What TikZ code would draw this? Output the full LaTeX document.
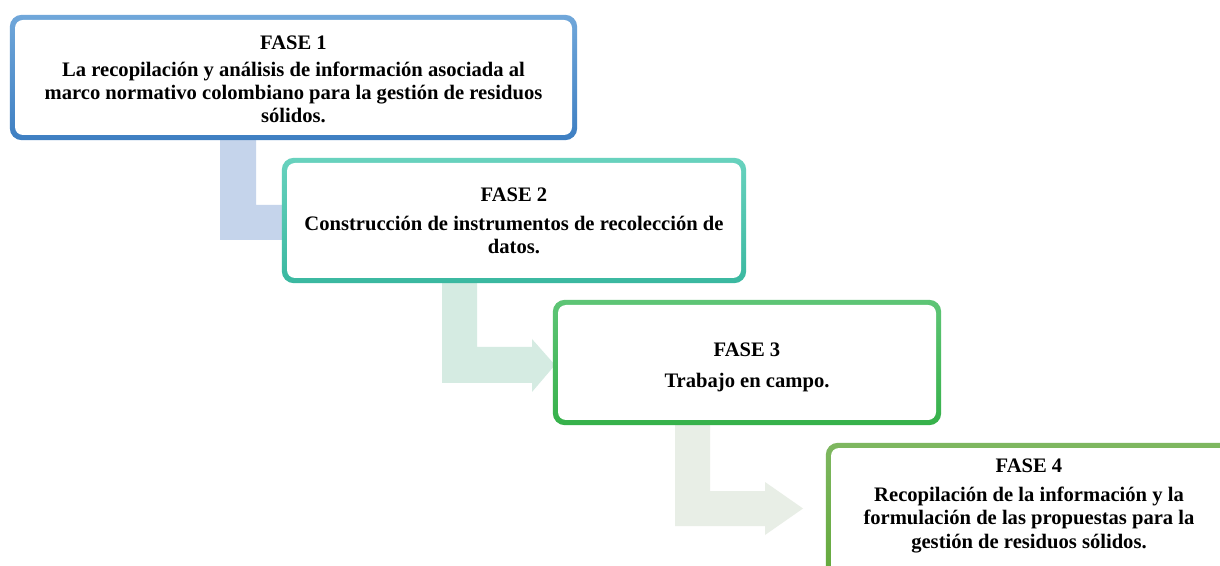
\documentclass[tikz,border=0pt]{standalone}
\usepackage{fontspec}
\setmainfont{Liberation Serif}
\usetikzlibrary{calc}
\pgfdeclarelayer{background}
\pgfsetlayers{background,main}
\definecolor{bAt}{RGB}{112,167,218}
\definecolor{bAb}{RGB}{62,127,194}
\definecolor{bBt}{RGB}{104,210,190}
\definecolor{bBb}{RGB}{58,184,160}
\definecolor{bCt}{RGB}{94,197,118}
\definecolor{bCb}{RGB}{54,177,74}
\definecolor{bDt}{RGB}{126,183,96}
\definecolor{bDb}{RGB}{98,168,58}
\definecolor{aA}{RGB}{197,212,235}
\definecolor{aB}{RGB}{213,235,226}
\definecolor{aC}{RGB}{232,238,230}
\begin{document}
\begin{tikzpicture}[x=1pt,y=1pt,
  phase/.style={rounded corners=8pt, fill=white, inner sep=0pt},
  phasetext/.style={inner sep=0pt, align=center,
    font=\fontsize{20.6}{22.8}\selectfont\bfseries},
  frame/.style={rounded corners=12pt},
  barrow/.style={draw=none}]
\useasboundingbox (0,0) rectangle (1220,565);
\clip (0,0) rectangle (1220,565);

% boxes
\node[phase, minimum width=557pt, minimum height=115pt] (f1) at (293.5,487.5) {};
\node[phase, minimum width=454pt, minimum height=115pt] (f2) at (514,344.5) {};
\node[phase, minimum width=378pt, minimum height=115pt] (f3) at (747,202.5) {};
\node[phase, minimum width=404pt, minimum height=132pt] (f4) at (1033,51) {};

% texts
\node[phasetext] (t1) at ($(f1.center)+(0,-2)$)
  {FASE 1\\[4pt] La recopilación y análisis de información asociada al\\ marco normativo colombiano para la gestión de residuos\\ sólidos.};
\node[phasetext] (t2) at ($(f2.center)+(0,-0.5)$)
  {FASE 2\\[6pt] Construcción de instrumentos de recolección de\\ datos.};
\node[phasetext] (t3) at ($(f3.center)+(0,-5)$)
  {FASE 3\\[8pt] Trabajo en campo.};
\node[phasetext, font=\fontsize{20.6}{23.5}\selectfont\bfseries] (t4) at (1029,59)
  {FASE 4\\[5pt] Recopilación de la información y la\\ formulación de las propuestas para la\\ gestión de residuos sólidos.};

\begin{pgfonlayer}{background}
  \fill[white] (0,0) rectangle (1220,565);
  % bent arrows
  \fill[aA, barrow] (220,0 |- f1.south) -- (256,0 |- f1.south) -- (256,360) -- (310,360) -- (310,368)
    -- (333,342.5) -- (310,317) -- (310,325) -- (220,325) -- cycle;
  \fill[aB, barrow] (442,0 |- f2.south) -- (477,0 |- f2.south) -- (477,218) -- (532,218) -- (532,226)
    -- (555,200) -- (532,173) -- (532,182) -- (442,182) -- cycle;
  \fill[aC, barrow] (675,0 |- f3.south) -- (710,0 |- f3.south) -- (710,74) -- (765,74) -- (765,83)
    -- (803,56.5) -- (765,30) -- (765,39) -- (675,39) -- cycle;
  % gradient frames
  \shade[frame, top color=bAt, bottom color=bAb] ($(f1.north west)+(-5,5)$) rectangle ($(f1.south east)+(5,-5)$);
  \shade[frame, top color=bBt, bottom color=bBb] ($(f2.north west)+(-5,5)$) rectangle ($(f2.south east)+(5,-5)$);
  \shade[frame, top color=bCt, bottom color=bCb] ($(f3.north west)+(-5,5)$) rectangle ($(f3.south east)+(5,-5)$);
  \shade[frame, top color=bDt, bottom color=bDb] ($(f4.north west)+(-5,5)$) rectangle ($(f4.south east)+(5,-5)$);
\end{pgfonlayer}
\end{tikzpicture}
\end{document}
